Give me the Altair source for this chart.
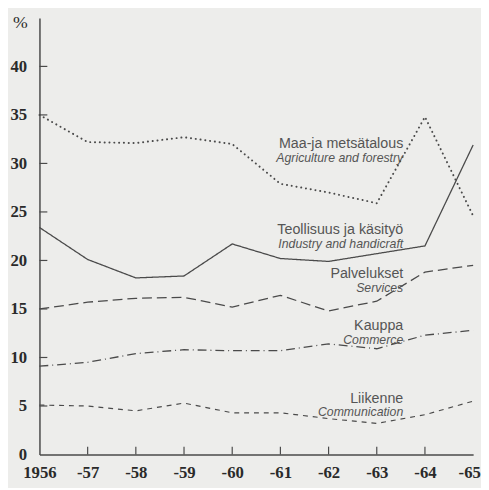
import altair as alt
import pandas as pd

years = [1956, 1957, 1958, 1959, 1960, 1961, 1962, 1963, 1964, 1965]
agriculture = [35.0, 32.2, 32.1, 32.7, 32.0, 27.9, 27.0, 25.9, 34.8, 24.6]
industry = [23.4, 20.1, 18.2, 18.4, 21.7, 20.2, 19.9, 20.7, 21.5, 31.9]
services = [15.0, 15.7, 16.1, 16.2, 15.2, 16.4, 14.8, 15.8, 18.8, 19.5]
commerce = [9.1, 9.5, 10.4, 10.8, 10.7, 10.7, 11.4, 10.9, 12.3, 12.8]
communication = [5.1, 5.0, 4.5, 5.3, 4.3, 4.3, 3.7, 3.2, 4.1, 5.5]

y_ticks = [5, 10, 15, 20, 25, 30, 35, 40]
x_ticks = [1957, 1958, 1959, 1960, 1961, 1962, 1963, 1964]

label_texts = ["Maa-ja metsätalous", "Agriculture and forestry",
               "Teollisuus ja käsityö", "Industry and handicraft",
               "Palvelukset", "Services",
               "Kauppa", "Commerce",
               "Liikenne", "Communication"]
label_year = [1963.55] * 10
label_value = [32.0, 30.6, 23.1, 21.7, 18.6, 17.2, 13.2, 11.8, 5.75, 4.35]
label_italic = [False, True] * 5

series = {
    "agriculture": (agriculture, [0.1, 4.8], 2.0),
    "industry": (industry, [1, 0], 1.3),
    "services": (services, [10, 5], 1.3),
    "commerce": (commerce, [9, 4, 1, 4], 1.3),
    "communication": (communication, [5, 5], 1.2),
}

W, H = 441, 444
ink = "#4a4a4a"
xscale = alt.Scale(domain=[1956, 1965], nice=False, zero=False)
yscale = alt.Scale(domain=[0, 45], nice=False)

xaxis = alt.Axis(
    values=years, ticks=False, grid=False, domainColor=ink, domainWidth=1.5,
    labelFont="Liberation Serif", labelFontWeight="bold", labelFontSize=17,
    labelColor="#2a2a2a", labelPadding=10, labelFlush=False,
    labelOffset={"condition": {"test": "datum.value == 1965", "value": -4}, "value": 0},
    labelExpr="datum.value == 1956 ? '1956' : '-' + slice(toString(datum.value), 2)",
    title=None)
yaxis = alt.Axis(
    values=[0] + y_ticks, ticks=False, grid=False, domainColor=ink, domainWidth=1.5,
    labelFont="Liberation Serif", labelFontWeight="bold", labelFontSize=17,
    labelColor="#2a2a2a", labelPadding=13,
    title="%", titleAngle=0, titleFont="Liberation Serif", titleFontWeight="normal",
    titleFontSize=18, titleColor="#2a2a2a", titleX=-20, titleY=5,
    titleAlign="center", titleBaseline="middle")

def X(field="year"):
    return alt.X(f"{field}:Q", scale=xscale, axis=xaxis)

def Y(field="value"):
    return alt.Y(f"{field}:Q", scale=yscale, axis=yaxis)

layers = []
for name, (vals, dash, sw) in series.items():
    df = pd.DataFrame({"year": years, "value": vals})
    layers.append(
        alt.Chart(df).mark_line(color=ink, strokeWidth=sw, strokeDash=dash,
                                strokeCap="round" if name == "agriculture" else "butt")
        .encode(x=X(), y=Y())
    )

ytick_df = pd.DataFrame({"value": y_ticks})
layers.append(
    alt.Chart(ytick_df).mark_rule(color=ink, strokeWidth=1.2)
    .encode(y=Y(), x=alt.value(0), x2=alt.value(8))
)
xtick_df = pd.DataFrame({"year": x_ticks})
layers.append(
    alt.Chart(xtick_df).mark_rule(color=ink, strokeWidth=1.2)
    .encode(x=X(), y=alt.value(H), y2=alt.value(H - 8))
)

lab = pd.DataFrame({"text": label_texts, "year": label_year, "value": label_value,
                    "italic": label_italic})
layers.append(
    alt.Chart(lab[~lab["italic"]]).mark_text(
        align="right", baseline="middle", font="Liberation Sans", fontSize=14.5,
        color="#555555")
    .encode(x=X(), y=Y(), text="text:N")
)
layers.append(
    alt.Chart(lab[lab["italic"]]).mark_text(
        align="right", baseline="middle", font="Liberation Sans", fontSize=12.5,
        fontStyle="italic", color="#555555")
    .encode(x=X(), y=Y(), text="text:N")
)

chart = alt.layer(*layers).properties(
    width=W, height=H,
    autosize=alt.AutoSizeParams(type="none"),
    padding={"left": 32, "top": 6, "right": 8, "bottom": 30},
    background="#ededeb",
).configure_view(stroke=None)

chart.save("out.html", embed_options={"renderer": "svg", "actions": False})
